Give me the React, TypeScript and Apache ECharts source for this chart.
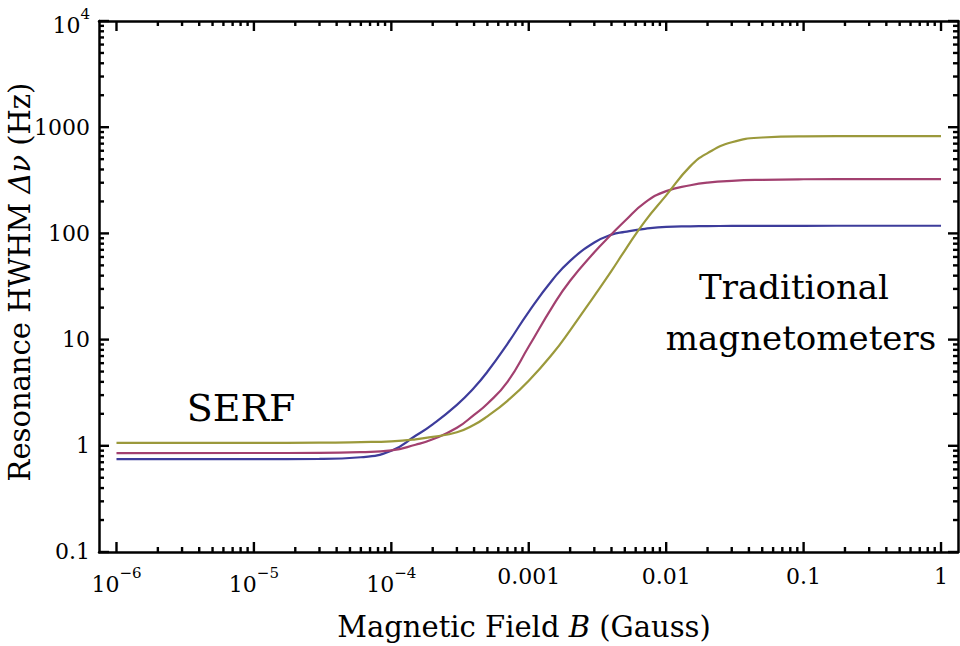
import React, { useEffect, useRef } from "react";
import * as echarts from "echarts";

// Magnetic field B (Gauss) sample positions shared by all curves
const fieldB = [1e-6, 1e-5, 3e-5, 6e-5, 1e-4, 1.5e-4, 2e-4, 3e-4, 4e-4, 5e-4, 7e-4, 1e-3, 1.5e-3, 2e-3, 3e-3, 4e-3, 5e-3, 7e-3, 1e-2, 1.5e-2, 2e-2, 3e-2, 5e-2, 0.1, 0.3, 1];

// Resonance HWHM (Hz)
const hwhmBlue = [0.749, 0.75, 0.753, 0.78, 0.9, 1.242, 1.594, 2.432, 3.517, 4.976, 9.13, 18.27, 36.97, 55.2, 82.1, 97.4, 103.3, 110.5, 115.4, 116.7, 117.2, 117.5, 117.7, 117.9, 118, 118];
const hwhmMagenta = [0.854, 0.855, 0.857, 0.872, 0.905, 1.022, 1.151, 1.477, 1.958, 2.486, 4.005, 8.6, 20.8, 35.8, 66.4, 98, 131, 195, 250, 284, 301, 312.9, 319.7, 323.5, 325, 325];
const hwhmOlive = [1.067, 1.067, 1.07, 1.083, 1.102, 1.151, 1.215, 1.34, 1.577, 1.896, 2.653, 4.093, 7.43, 12.24, 25.85, 44.4, 69, 130, 228, 430, 570, 722, 800, 821, 824, 825];

// Tick values and labels
const xMajorTicks = [1e-6, 1e-5, 1e-4, 1e-3, 1e-2, 1e-1, 1];
const xTickLabels = ["{b|10}{s|−6}", "{b|10}{s|−5}", "{b|10}{s|−4}", "0.001", "0.01", "0.1", "1"];
const yMajorTicks = [0.1, 1, 10, 100, 1000, 10000];
const yTickLabels = ["0.1", "1", "10", "100", "1000", "{b|10}{s|4}"];

const minorBetween = (majors: number[]) => {
  const out: number[] = [];
  for (let i = 0; i < majors.length - 1; i++) {
    for (let m = 2; m <= 9; m++) out.push(majors[i] * m);
  }
  return out;
};
const xMinorTicks = minorBetween(xMajorTicks);
const yMinorTicks = minorBetween(yMajorTicks);

const X_MIN = 7.46e-7;
const X_MAX = 1.329;
const Y_MIN = 0.09999;
const Y_MAX = 10000.01;

const FONT = "DejaVu Serif";

const pickLabel = (ticks: number[], labels: string[]) => (v: number) => {
  const lv = Math.log10(v);
  let best = 0;
  for (let i = 0; i < ticks.length; i++) {
    if (Math.abs(Math.log10(ticks[i]) - lv) < Math.abs(Math.log10(ticks[best]) - lv)) best = i;
  }
  return labels[best];
};

const richLabel = {
  b: { fontSize: 22, fontFamily: FONT, color: "#000", lineHeight: 30, verticalAlign: "bottom" },
  s: { fontSize: 15, fontFamily: FONT, color: "#000", lineHeight: 17, verticalAlign: "top" },
};

const makeAxis = (dim: "x" | "y", position: string, labels?: string[]) => {
  const isX = dim === "x";
  const ticks = isX ? xMajorTicks : yMajorTicks;
  return {
    type: "log",
    logBase: 10,
    position,
    min: isX ? X_MIN : Y_MIN,
    max: isX ? X_MAX : Y_MAX,
    axisLine: { show: true, onZero: false, lineStyle: { color: "#000", width: 2.5 } },
    axisTick: { show: false },
    minorTick: { show: false },
    splitLine: { show: false },
    minorSplitLine: { show: false },
    axisLabel: labels
      ? {
          show: true,
          customValues: ticks,
          formatter: pickLabel(ticks, labels),
          margin: isX ? 13 : 9,
          fontSize: 22,
          fontFamily: FONT,
          color: "#000",
          hideOverlap: false,
          showMinLabel: true,
          showMaxLabel: true,
          rich: richLabel,
        }
      : { show: false },
  };
};

const toPairs = (ys: number[]) => fieldB.map((b, i) => [b, ys[i]]);

const lineSeries = (name: string, ys: number[], color: string) => ({
  name,
  type: "line",
  xAxisIndex: 0,
  yAxisIndex: 0,
  data: toPairs(ys),
  showSymbol: false,
  symbol: "none",
  smooth: 0.5,
  lineStyle: { color, width: 2.2 },
  itemStyle: { color },
  z: 3,
});

const curveSeries = [
  lineSeries("Blue", hwhmBlue, "#3d3c9b"),
  lineSeries("Magenta", hwhmMagenta, "#a2406f"),
  lineSeries("Olive", hwhmOlive, "#9b993b"),
];

const option = {
  animation: false,
  backgroundColor: "#ffffff",
  textStyle: { fontFamily: FONT },
  grid: { left: 99, right: 2, top: 21, bottom: 94, containLabel: false, outerBoundsMode: "none" },
  xAxis: [makeAxis("x", "bottom", xTickLabels), makeAxis("x", "top")],
  yAxis: [makeAxis("y", "left", yTickLabels), makeAxis("y", "right")],
  series: curveSeries,
};

const textElements: any[] = [
  {
    type: "text",
    x: 524,
    y: 627,
    style: {
      text: "Magnetic Field {i|B} (Gauss)",
      fontFamily: FONT,
      fontSize: 29,
      fill: "#000",
      align: "center",
      verticalAlign: "middle",
      rich: { i: { fontSize: 29, fontFamily: FONT, fontStyle: "italic", fill: "#000" } },
    },
  },
  {
    type: "text",
    x: 20,
    y: 282,
    rotation: Math.PI / 2,
    style: {
      text: "Resonance HWHM {i|Δν} (Hz)",
      fontFamily: FONT,
      fontSize: 29,
      fill: "#000",
      align: "center",
      verticalAlign: "middle",
      rich: { i: { fontSize: 29, fontFamily: FONT, fontStyle: "italic", fill: "#000" } },
    },
  },
  {
    type: "text",
    x: 241,
    y: 408,
    style: { text: "SERF", fontFamily: FONT, fontSize: 38, fill: "#000", align: "center", verticalAlign: "middle" },
  },
  {
    type: "text",
    x: 794,
    y: 287,
    style: { text: "Traditional", fontFamily: FONT, fontSize: 34, fill: "#000", align: "center", verticalAlign: "middle" },
  },
  {
    type: "text",
    x: 801,
    y: 338,
    style: { text: "magnetometers", fontFamily: FONT, fontSize: 34, fill: "#000", align: "center", verticalAlign: "middle" },
  },
];

export default function App() {
  const ref = useRef<HTMLDivElement>(null);
  useEffect(() => {
    if (!ref.current) return;
    const chart = echarts.init(ref.current, undefined, { renderer: "svg" });
    chart.setOption(option as any);

    // Frame ticks on all four sides, placed through the axes' own log scales
    const toPx = (p: number[]): number[] | null => {
      const r: any = chart.convertToPixel({ xAxisIndex: 0, yAxisIndex: 0 } as any, p as any);
      return r && isFinite(r[0]) && isFinite(r[1]) ? r : null;
    };
    const W = 2.4;
    const ticks: any[] = [];
    const bar = (x: number, y: number, width: number, height: number) => ({
      type: "rect",
      z: 100,
      silent: true,
      shape: { x, y, width, height },
      style: { fill: "#000" },
    });
    const addTicks = (len: number, xs: number[], ys: number[]) => {
      xs.forEach((v) => {
        const b = toPx([v, Y_MIN]);
        const t = toPx([v, Y_MAX]);
        if (b && t) {
          ticks.push(bar(b[0] - W / 2, b[1] - len, W, len));
          ticks.push(bar(t[0] - W / 2, t[1], W, len));
        }
      });
      ys.forEach((v) => {
        const l = toPx([X_MIN, v]);
        const r = toPx([X_MAX, v]);
        if (l && r) {
          ticks.push(bar(l[0], l[1] - W / 2, len, W));
          ticks.push(bar(r[0] - len, r[1] - W / 2, len, W));
        }
      });
    };
    addTicks(10, xMajorTicks, yMajorTicks);
    addTicks(5, xMinorTicks, yMinorTicks);

    chart.setOption({ graphic: { elements: [...textElements, ...ticks] } } as any);
    return () => chart.dispose();
  }, []);
  return (
    <div
      ref={ref}
      style={{ position: "absolute", left: 0, top: 0, width: 960, height: 646, background: "#fff" }}
    />
  );
}
